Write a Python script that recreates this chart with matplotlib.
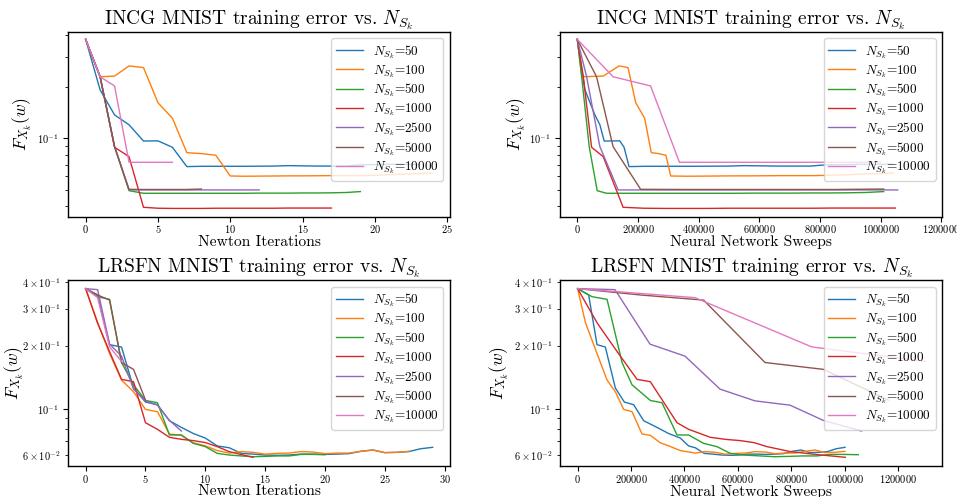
import matplotlib
matplotlib.use("Agg")
import matplotlib.pyplot as plt

plt.rcParams['font.family'] = 'serif'
plt.rcParams['font.serif'] = ['cmr10', 'DejaVu Serif']
plt.rcParams['mathtext.fontset'] = 'cm'
plt.rcParams['axes.formatter.use_mathtext'] = True
plt.rcParams['axes.unicode_minus'] = False

labels = [r'$N_{S_k}$=50', r'$N_{S_k}$=100', r'$N_{S_k}$=500', r'$N_{S_k}$=1000',
          r'$N_{S_k}$=2500', r'$N_{S_k}$=5000', r'$N_{S_k}$=10000']
colors = ['#1f77b4', '#ff7f0e', '#2ca02c', '#d62728', '#9467bd', '#8c564b', '#e377c2']

# ---------------- INCG (top row) ----------------
incg_50 = [0.379, 0.192, 0.137, 0.120, 0.0964, 0.0966, 0.0886, 0.0683, 0.0686, 0.0686,
           0.0686, 0.0686, 0.0687, 0.0688, 0.0692, 0.0690, 0.0688, 0.0688, 0.0688, 0.0700,
           0.0702, 0.0705, 0.0705, 0.0705]
incg_100 = [0.379, 0.229, 0.231, 0.265, 0.259, 0.1615, 0.131, 0.0824, 0.0814, 0.0796,
            0.0602, 0.0600, 0.0601, 0.0602, 0.0603, 0.0603, 0.0604, 0.0605, 0.0605, 0.0605,
            0.0608, 0.0612, 0.0618, 0.0622, 0.0627]
incg_500 = [0.379, 0.229, 0.0894, 0.0494, 0.0477, 0.0477, 0.0477, 0.0477, 0.0477, 0.0477,
            0.0477, 0.0477, 0.0478, 0.0478, 0.0478, 0.0479, 0.0479, 0.0480, 0.0482, 0.0488]
incg_1000 = [0.379, 0.229, 0.0886, 0.0781, 0.0395, 0.0390, 0.0389, 0.0389, 0.0389, 0.0390,
             0.0390, 0.0390, 0.0390, 0.0390, 0.0391, 0.0391, 0.0391, 0.0391]
incg_2500 = [0.379, 0.229, 0.0894, 0.0499, 0.0499, 0.0499, 0.0499, 0.0499, 0.0499, 0.0499,
             0.0499, 0.0499, 0.0499]
incg_5000 = [0.379, 0.229, 0.0894, 0.0503, 0.0502, 0.0502, 0.0502, 0.0502, 0.0505]
incg_10000 = [0.379, 0.229, 0.2023, 0.0724, 0.0724, 0.0724, 0.0724]

incg_sw_50 = [0, 25200, 58000, 74400, 88600, 140000, 154200, 170500, 224800, 279100,
              333400, 387700, 442000, 496300, 550600, 604900, 659200, 713500, 767800, 822100,
              876400, 930700, 985000, 1039000]
incg_sw_100 = [0, 15300, 85400, 137800, 167200, 192500, 222000, 243800, 268000, 292000,
               308000, 360500, 413000, 465500, 518000, 570500, 623000, 675500, 728000, 780500,
               833000, 885500, 938000, 990500, 1043000]
incg_sw_500 = [0, 14400, 39300, 65600, 96300, 157200, 218100, 279000, 339900, 400800,
               461700, 522600, 583500, 644400, 705300, 766200, 827100, 888000, 948900, 1009800]
incg_sw_1000 = [0, 19800, 47100, 85400, 151000, 220000, 289100, 358100, 427200, 496200,
                565200, 634300, 703300, 772400, 841400, 910400, 979500, 1048500]
incg_sw_2500 = [0, 30700, 74400, 134600, 237000, 339400, 441800, 544200, 646600, 749000,
                851400, 953800, 1056000]
incg_sw_5000 = [0, 63500, 118000, 208800, 369000, 529200, 689400, 849600, 1010000]
incg_sw_10000 = [0, 118000, 241600, 336700, 557800, 778900, 1000000]

# ---------------- LRSFN (bottom row) ----------------
lrsfn_50 = [0.373, 0.348, 0.2018, 0.1967, 0.1255, 0.1076, 0.1045, 0.0877, 0.0815, 0.0762,
            0.0725, 0.0665, 0.0652, 0.0613, 0.0608, 0.0602, 0.0600, 0.0602, 0.0608, 0.0608,
            0.0606, 0.0608, 0.0611, 0.0627, 0.0636, 0.0618, 0.0620, 0.0625, 0.0645, 0.0655]
lrsfn_100 = [0.373, 0.258, 0.183, 0.137, 0.1205, 0.0993, 0.0968, 0.0758, 0.0747, 0.0688,
             0.0666, 0.0632, 0.0615, 0.0625, 0.0620, 0.0608, 0.0613, 0.0615, 0.0625, 0.0622,
             0.0611, 0.0615, 0.0615, 0.0627, 0.0636, 0.0618, 0.0620, 0.0627]
lrsfn_500 = [0.373, 0.3416, 0.3317, 0.1660, 0.1300, 0.1095, 0.1068, 0.0750, 0.0750, 0.0684,
             0.0660, 0.0613, 0.0602, 0.0596, 0.0591, 0.0593, 0.0596, 0.0596, 0.0606, 0.0606,
             0.0604]
lrsfn_1000 = [0.373, 0.255, 0.187, 0.138, 0.1345, 0.0858, 0.0798, 0.0731, 0.0715, 0.0705,
              0.0690, 0.0660, 0.0625, 0.0605, 0.0587]
lrsfn_2500 = [0.373, 0.369, 0.203, 0.178, 0.124, 0.109, 0.104, 0.088, 0.0783]
lrsfn_5000 = [0.373, 0.348, 0.329, 0.166, 0.154, 0.110]
lrsfn_10000 = [0.373, 0.338, 0.197, 0.168]

lrsfn_sw_50 = [0, 41200, 72600, 103700, 141200, 174900, 209800, 247200, 297200, 340800,
               384500, 415700, 440800, 473800, 506800, 539800, 572800, 605800, 638800, 671800,
               704800, 737800, 770800, 803800, 836800, 869800, 902800, 935800, 968800, 1001500]
lrsfn_sw_100 = [0, 28800, 72600, 110100, 141200, 172300, 203700, 241200, 272300, 309700,
                340800, 384500, 440800, 478200, 515500, 552900, 590300, 627700, 665000, 702400,
                739800, 777200, 814600, 851900, 889300, 926700, 964100, 1001500]
lrsfn_sw_500 = [0, 53800, 110100, 166300, 203700, 272300, 316000, 372200, 415700, 471900,
                522000, 571900, 621700, 684300, 736700, 789200, 841600, 894000, 946500, 998900,
                1051300]
lrsfn_sw_1000 = [0, 74000, 148000, 222400, 272300, 372200, 415700, 497000, 553000, 609400,
                 660000, 709300, 796600, 896500, 1002600]
lrsfn_sw_2500 = [0, 140000, 271000, 402200, 533300, 664400, 795500, 920200, 1063700]
lrsfn_sw_5000 = [0, 236000, 471900, 701800, 920200, 1163700]
lrsfn_sw_10000 = [0, 439600, 876500, 1301000]

incg_vals = [incg_50, incg_100, incg_500, incg_1000, incg_2500, incg_5000, incg_10000]
incg_sweeps = [incg_sw_50, incg_sw_100, incg_sw_500, incg_sw_1000, incg_sw_2500,
               incg_sw_5000, incg_sw_10000]
lrsfn_vals = [lrsfn_50, lrsfn_100, lrsfn_500, lrsfn_1000, lrsfn_2500, lrsfn_5000, lrsfn_10000]
lrsfn_sweeps = [lrsfn_sw_50, lrsfn_sw_100, lrsfn_sw_500, lrsfn_sw_1000, lrsfn_sw_2500,
                lrsfn_sw_5000, lrsfn_sw_10000]

W, H = 957, 497
fig = plt.figure(figsize=(W / 100, H / 100), dpi=100)

def rect(x0, y0, x1, y1):
    return [x0 / W, 1 - y1 / H, (x1 - x0) / W, (y1 - y0) / H]

ax_tl = fig.add_axes(rect(68.3, 31.7, 450.0, 216.7))
ax_tr = fig.add_axes(rect(560.3, 31.7, 942.3, 216.7))
ax_bl = fig.add_axes(rect(68.3, 280.3, 450.0, 466.3))
ax_br = fig.add_axes(rect(560.3, 280.3, 942.3, 466.3))

title_fs = 14
label_fs = 11.2
ylabel_fs = 12.5
tick_fs = 7.5
leg_fs = 9.5

def style(ax, title, xlabel, ylab_x):
    ax.set_yscale('log')
    ax.set_title(title, fontsize=title_fs, pad=5)
    ax.set_xlabel(xlabel, fontsize=label_fs, labelpad=0)
    ax.set_ylabel(r'$F_{X_k}(w)$', fontsize=ylabel_fs)
    ax.yaxis.set_label_coords(ylab_x, 0.5)
    ax.tick_params(axis='both', which='both', labelsize=tick_fs)
    ax.tick_params(axis='x', pad=1.0)
    ax.legend(loc='upper right', fontsize=leg_fs, labelspacing=0.15,
              borderpad=0.35, borderaxespad=0.5)
    for s in ax.spines.values():
        s.set_linewidth(1.0)

for vals, c, lab in zip(incg_vals, colors, labels):
    ax_tl.plot(range(len(vals)), vals, color=c, lw=1.0, label=lab)
for vals, sw, c, lab in zip(incg_vals, incg_sweeps, colors, labels):
    ax_tr.plot(sw, vals, color=c, lw=1.0, label=lab)
for vals, c, lab in zip(lrsfn_vals, colors, labels):
    ax_bl.plot(range(len(vals)), vals, color=c, lw=1.0, label=lab)
for vals, sw, c, lab in zip(lrsfn_vals, lrsfn_sweeps, colors, labels):
    ax_br.plot(sw, vals, color=c, lw=1.0, label=lab)

style(ax_tl, r'INCG MNIST training error vs. $N_{S_k}$', 'Newton Iterations', -0.09)
style(ax_tr, r'INCG MNIST training error vs. $N_{S_k}$', 'Neural Network Sweeps', -0.085)
style(ax_bl, r'LRSFN MNIST training error vs. $N_{S_k}$', 'Newton Iterations', -0.112)
style(ax_br, r'LRSFN MNIST training error vs. $N_{S_k}$', 'Neural Network Sweeps', -0.13)

ax_tl.set_ylim(0.0348, 0.420)
ax_tr.set_ylim(0.0348, 0.420)
ax_bl.set_ylim(0.0532, 0.4088)
ax_br.set_ylim(0.0532, 0.4088)
ax_tr.set_xlim(-56000, 1203000)
ax_br.set_xlim(-65000, 1366000)
ax_tr.set_xticks([0, 200000, 400000, 600000, 800000, 1000000, 1200000])
ax_br.set_xticks([0, 200000, 400000, 600000, 800000, 1000000, 1200000])
for ax in (ax_tr, ax_br):
    ax.ticklabel_format(style='plain', axis='x', useOffset=False)

fig.savefig('out.png', dpi=100)
